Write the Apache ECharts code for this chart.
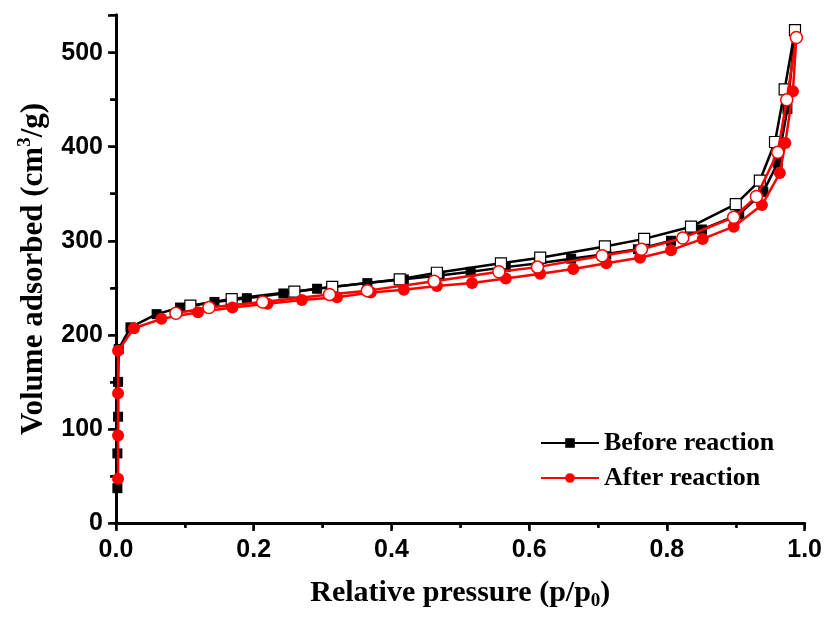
<!DOCTYPE html>
<html>
<head>
<meta charset="utf-8">
<script src="https://cdn.jsdelivr.net/npm/echarts@6/dist/echarts.min.js"></script>
<style>
  html, body { margin: 0; padding: 0; background: #fff; }
  #chart { width: 825px; height: 617px; }
</style>
</head>
<body>
<div id="chart"></div>
<script>
// before reaction, adsorption branch (filled squares)
var beforeAdsP = [0.002, 0.002, 0.003, 0.003, 0.004, 0.021, 0.059, 0.093, 0.143, 0.190, 0.243, 0.292, 0.365, 0.418, 0.470, 0.515, 0.566, 0.614, 0.661, 0.712, 0.758, 0.806, 0.851, 0.905, 0.940, 0.961, 0.975, 0.986];
var beforeAdsV = [37, 74, 113, 150, 185, 208, 222, 229, 235, 239, 244, 249, 255, 259, 263, 267, 272, 276, 281, 286, 291, 300, 312, 328, 352, 383, 440, 522];
// before reaction, desorption branch (open squares)
var beforeDesP = [0.986, 0.971, 0.957, 0.935, 0.900, 0.835, 0.767, 0.710, 0.616, 0.559, 0.466, 0.412, 0.314, 0.259, 0.168, 0.108];
var beforeDesV = [524, 461, 405, 364, 339, 315, 302, 294, 282, 276, 266, 259, 251, 246, 238, 231];
// after reaction, adsorption branch (filled circles)
var afterAdsP = [0.003, 0.003, 0.003, 0.003, 0.026, 0.066, 0.119, 0.169, 0.220, 0.270, 0.321, 0.370, 0.418, 0.466, 0.517, 0.566, 0.616, 0.664, 0.712, 0.761, 0.806, 0.852, 0.897, 0.938, 0.964, 0.972, 0.983, 0.988];
var afterAdsV = [47, 93, 138, 183, 207, 217, 224, 229, 233, 237, 240, 245, 248, 252, 255, 260, 265, 270, 276, 282, 290, 302, 315, 338, 372, 404, 459, 516];
// after reaction, desorption branch (open circles)
var afterDesP = [0.988, 0.974, 0.961, 0.930, 0.897, 0.823, 0.763, 0.706, 0.612, 0.556, 0.462, 0.365, 0.310, 0.213, 0.135, 0.087];
var afterDesV = [516, 450, 394, 347, 325, 303, 291, 284, 272, 267, 257, 247, 243, 235, 229, 223];

function pairs(xs, ys) {
    var res = [];
    for (var i = 0; i < xs.length; i++) {
        res.push([xs[i], ys[i]]);
    }
    return res;
}

var serif = '"Liberation Serif", "Times New Roman", serif';
var sans = '"Liberation Sans", Arial, sans-serif';

var chart = echarts.init(document.getElementById('chart'), null, { renderer: 'canvas' });

var frameLine = { show: true, lineStyle: { color: '#000', width: 3 } };

var option = {
    backgroundColor: '#fff',
    animation: false,
    grid: { left: 116, right: 18, top: 15, bottom: 94 },
    legend: {
        data: ['Before reaction', 'After reaction'],
        orient: 'vertical',
        left: 535,
        top: 425,
        itemWidth: 58,
        itemHeight: 12,
        itemGap: 9,
        textStyle: { fontFamily: serif, fontWeight: 'bold', fontSize: 26, color: '#000' }
    },
    xAxis: [{
        type: 'value',
        min: 0,
        max: 1.0,
        interval: 0.2,
        position: 'bottom',
        name: 'Relative pressure (p/p{sub|0})',
        nameLocation: 'middle',
        nameGap: 53,
        nameTextStyle: {
            fontFamily: serif, fontWeight: 'bold', fontSize: 30, color: '#000',
            rich: { sub: { fontFamily: serif, fontWeight: 'bold', fontSize: 19, color: '#000', padding: [16, 0, 0, 0] } }
        },
        axisLine: frameLine,
        axisTick: { show: true, inside: false, length: 8, lineStyle: { color: '#000', width: 2.5 } },
        minorTick: { show: true, splitNumber: 2, length: 5, lineStyle: { color: '#000', width: 2.5 } },
        axisLabel: {
            margin: 15,
            fontFamily: sans, fontWeight: 'bold', fontSize: 25, color: '#000',
            formatter: function (v) { return v.toFixed(1); }
        },
        splitLine: { show: false }
    }, {
        type: 'value',
        min: 0,
        max: 1.0,
        interval: 0.2,
        position: 'top',
        axisLine: frameLine,
        axisTick: { show: true, inside: true, length: 6, lineStyle: { color: '#000', width: 2 } },
        minorTick: { show: true, splitNumber: 2, length: 4, lineStyle: { color: '#000', width: 2 } },
        axisLabel: { show: false },
        splitLine: { show: false }
    }],
    yAxis: [{
        type: 'value',
        min: 0,
        max: 540,
        interval: 100,
        position: 'left',
        name: 'Volume adsorbed (cm{sup|3}/g)',
        nameLocation: 'middle',
        nameGap: 65,
        nameTextStyle: {
            fontFamily: serif, fontWeight: 'bold', fontSize: 31, color: '#000',
            rich: { sup: { fontFamily: serif, fontWeight: 'bold', fontSize: 19, color: '#000', padding: [0, 0, 16, 0] } }
        },
        axisLine: frameLine,
        axisTick: { show: true, inside: false, length: 8, lineStyle: { color: '#000', width: 2.5 } },
        minorTick: { show: true, splitNumber: 2, length: 6, lineStyle: { color: '#000', width: 2.5 } },
        axisLabel: {
            margin: 13, showMaxLabel: false,
            fontFamily: sans, fontWeight: 'bold', fontSize: 25, color: '#000'
        },
        splitLine: { show: false }
    }, {
        type: 'value',
        min: 0,
        max: 540,
        interval: 100,
        position: 'right',
        axisLine: frameLine,
        axisTick: { show: true, inside: true, length: 6, lineStyle: { color: '#000', width: 2 } },
        minorTick: { show: true, splitNumber: 2, length: 5, lineStyle: { color: '#000', width: 2 } },
        axisLabel: { show: false },
        splitLine: { show: false }
    }],
    series: [
        {
            name: 'Before reaction',
            type: 'line',
            data: pairs(beforeAdsP, beforeAdsV),
            symbol: 'rect',
            symbolSize: 10,
            lineStyle: { color: '#000', width: 2.5 },
            itemStyle: { color: '#000' },
            z: 2
        },
        {
            name: 'Before reaction desorption',
            type: 'line',
            data: pairs(beforeDesP, beforeDesV),
            symbol: 'rect',
            symbolSize: 11,
            lineStyle: { color: '#000', width: 2.5 },
            itemStyle: { color: '#fff', borderColor: '#000', borderWidth: 1.2 },
            z: 3
        },
        {
            name: 'After reaction',
            type: 'line',
            data: pairs(afterAdsP, afterAdsV),
            symbol: 'circle',
            symbolSize: 12,
            lineStyle: { color: '#ff0000', width: 2.5 },
            itemStyle: { color: '#ff0000' },
            z: 4
        },
        {
            name: 'After reaction desorption',
            type: 'line',
            data: pairs(afterDesP, afterDesV),
            symbol: 'circle',
            symbolSize: 12,
            lineStyle: { color: '#ff0000', width: 2.5 },
            itemStyle: { color: '#fff', borderColor: '#ff0000', borderWidth: 1.5 },
            z: 5
        }
    ]
};
option.series.forEach(function (s) { s.showAllSymbol = true; });
chart.setOption(option);
</script>
</body>
</html>
